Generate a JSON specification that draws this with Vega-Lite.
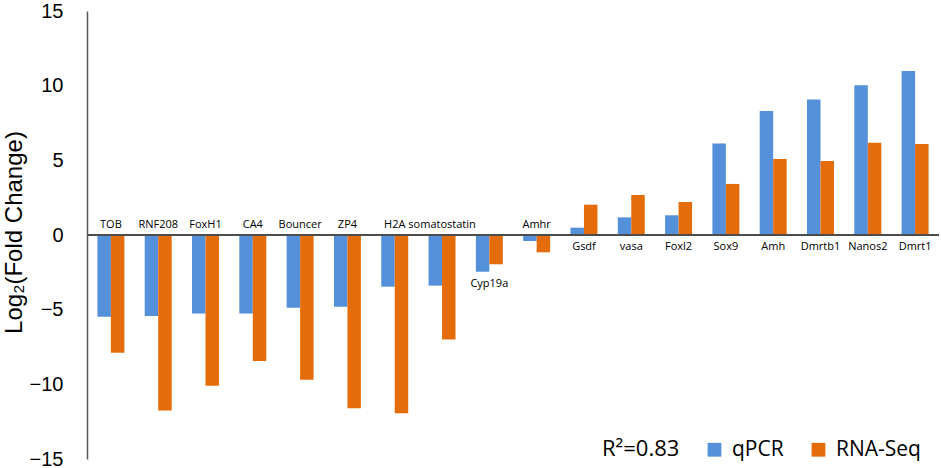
{
  "$schema": "https://vega.github.io/schema/vega-lite/v6.json",
  "width": 852,
  "height": 448,
  "autosize": {"type": "none"},
  "padding": {"left": 87, "top": 11, "right": 2, "bottom": 9},
  "background": "white",
  "config": {"view": {"stroke": null}, "font": "Open Sans"},
  "data": {"values": [
    {"gene": "TOB", "method": "qPCR", "value": -5.47},
    {"gene": "TOB", "method": "RNA-Seq", "value": -7.88},
    {"gene": "RNF208", "method": "qPCR", "value": -5.42},
    {"gene": "RNF208", "method": "RNA-Seq", "value": -11.76},
    {"gene": "FoxH1", "method": "qPCR", "value": -5.25},
    {"gene": "FoxH1", "method": "RNA-Seq", "value": -10.1},
    {"gene": "CA4", "method": "qPCR", "value": -5.25},
    {"gene": "CA4", "method": "RNA-Seq", "value": -8.44},
    {"gene": "Bouncer", "method": "qPCR", "value": -4.87},
    {"gene": "Bouncer", "method": "RNA-Seq", "value": -9.7},
    {"gene": "ZP4", "method": "qPCR", "value": -4.8},
    {"gene": "ZP4", "method": "RNA-Seq", "value": -11.6},
    {"gene": "H2A", "method": "qPCR", "value": -3.46},
    {"gene": "H2A", "method": "RNA-Seq", "value": -11.94},
    {"gene": "somatostatin", "method": "qPCR", "value": -3.39},
    {"gene": "somatostatin", "method": "RNA-Seq", "value": -6.99},
    {"gene": "Cyp19a", "method": "qPCR", "value": -2.46},
    {"gene": "Cyp19a", "method": "RNA-Seq", "value": -1.96},
    {"gene": "Amhr", "method": "qPCR", "value": -0.4},
    {"gene": "Amhr", "method": "RNA-Seq", "value": -1.16},
    {"gene": "Gsdf", "method": "qPCR", "value": 0.49},
    {"gene": "Gsdf", "method": "RNA-Seq", "value": 2.03},
    {"gene": "vasa", "method": "qPCR", "value": 1.18},
    {"gene": "vasa", "method": "RNA-Seq", "value": 2.68},
    {"gene": "Foxl2", "method": "qPCR", "value": 1.32},
    {"gene": "Foxl2", "method": "RNA-Seq", "value": 2.21},
    {"gene": "Sox9", "method": "qPCR", "value": 6.12},
    {"gene": "Sox9", "method": "RNA-Seq", "value": 3.42},
    {"gene": "Amh", "method": "qPCR", "value": 8.3},
    {"gene": "Amh", "method": "RNA-Seq", "value": 5.09},
    {"gene": "Dmrtb1", "method": "qPCR", "value": 9.08},
    {"gene": "Dmrtb1", "method": "RNA-Seq", "value": 4.96},
    {"gene": "Nanos2", "method": "qPCR", "value": 10.02},
    {"gene": "Nanos2", "method": "RNA-Seq", "value": 6.18},
    {"gene": "Dmrt1", "method": "qPCR", "value": 10.98},
    {"gene": "Dmrt1", "method": "RNA-Seq", "value": 6.09}
  ]},
  "encoding": {
    "x": {
      "field": "gene", "type": "nominal", "sort": null,
      "scale": {"paddingInner": 0.43, "paddingOuter": 0.22},
      "axis": null
    }
  },
  "layer": [
    {
      "mark": {"type": "bar"},
      "encoding": {
        "y": {
          "field": "value", "type": "quantitative",
          "scale": {"domain": [-15, 15], "nice": false, "zero": false},
          "axis": {
            "values": [-15, -10, -5, 0, 5, 10, 15],
            "title": "Log₂(Fold Change)",
            "titleFont": "Liberation Sans",
            "titleFontSize": 24,
            "titleFontWeight": "normal",
            "titleColor": "black",
            "titleAngle": -90,
            "titleX": -73,
            "titleY": 221,
            "titleAlign": "center",
            "titleBaseline": "middle",
            "labelFont": "Liberation Sans",
            "labelFontSize": 20,
            "labelColor": "black",
            "labelPadding": 24,
            "ticks": false,
            "grid": false,
            "domainColor": "#595959",
            "domainWidth": 1.5
          }
        },
        "xOffset": {"field": "method", "type": "nominal", "sort": ["qPCR", "RNA-Seq"], "scale": {"paddingInner": 0, "paddingOuter": 0}},
        "color": {
          "field": "method", "type": "nominal",
          "scale": {"domain": ["qPCR", "RNA-Seq"], "range": ["#5590DA", "#E46C0B"]},
          "legend": {
            "title": "R²=0.83",
            "titleOrient": "left",
            "titleFont": "Open Sans",
            "titleFontSize": 22,
            "titleFontWeight": "normal",
            "titleColor": "black",
            "titlePadding": 24,
            "titleBaseline": "middle",
            "orient": "none",
            "legendX": 515,
            "legendY": 428,
            "direction": "horizontal",
            "symbolType": "square",
            "symbolSize": 190,
            "symbolStrokeWidth": 0,
            "symbolOpacity": 1,
            "labelFont": "Open Sans",
            "labelFontSize": 21,
            "labelColor": "black",
            "labelOffset": 7,
            "columnPadding": 24
          }
        }
      }
    },
    {
      "mark": {"type": "rule", "color": "#4d4d4d", "strokeWidth": 1.5},
      "encoding": {"y": {"datum": 0}, "x": null}
    },
    {
      "transform": [
        {"filter": "datum.method == 'qPCR'"},
        {"filter": {"field": "gene", "oneOf": ["TOB", "RNF208", "FoxH1", "CA4", "Bouncer", "ZP4", "H2A", "somatostatin", "Amhr"]}}
      ],
      "mark": {"type": "text", "baseline": "bottom", "dy": -5, "fontSize": 11, "font": "Open Sans", "color": "black"},
      "encoding": {"y": {"datum": 0}, "text": {"field": "gene"}}
    },
    {
      "transform": [
        {"filter": "datum.method == 'qPCR'"},
        {"filter": {"field": "gene", "oneOf": ["Gsdf", "vasa", "Foxl2", "Sox9", "Amh", "Dmrtb1", "Nanos2", "Dmrt1"]}}
      ],
      "mark": {"type": "text", "baseline": "top", "dy": 6, "fontSize": 11, "font": "Open Sans", "color": "black"},
      "encoding": {"y": {"datum": 0}, "text": {"field": "gene"}}
    },
    {
      "transform": [
        {"filter": "datum.method == 'qPCR'"},
        {"filter": {"field": "gene", "equal": "Cyp19a"}}
      ],
      "mark": {"type": "text", "baseline": "top", "dy": 6, "fontSize": 11, "font": "Open Sans", "color": "black"},
      "encoding": {"y": {"field": "value", "type": "quantitative"}, "text": {"field": "gene"}}
    }
  ]
}
